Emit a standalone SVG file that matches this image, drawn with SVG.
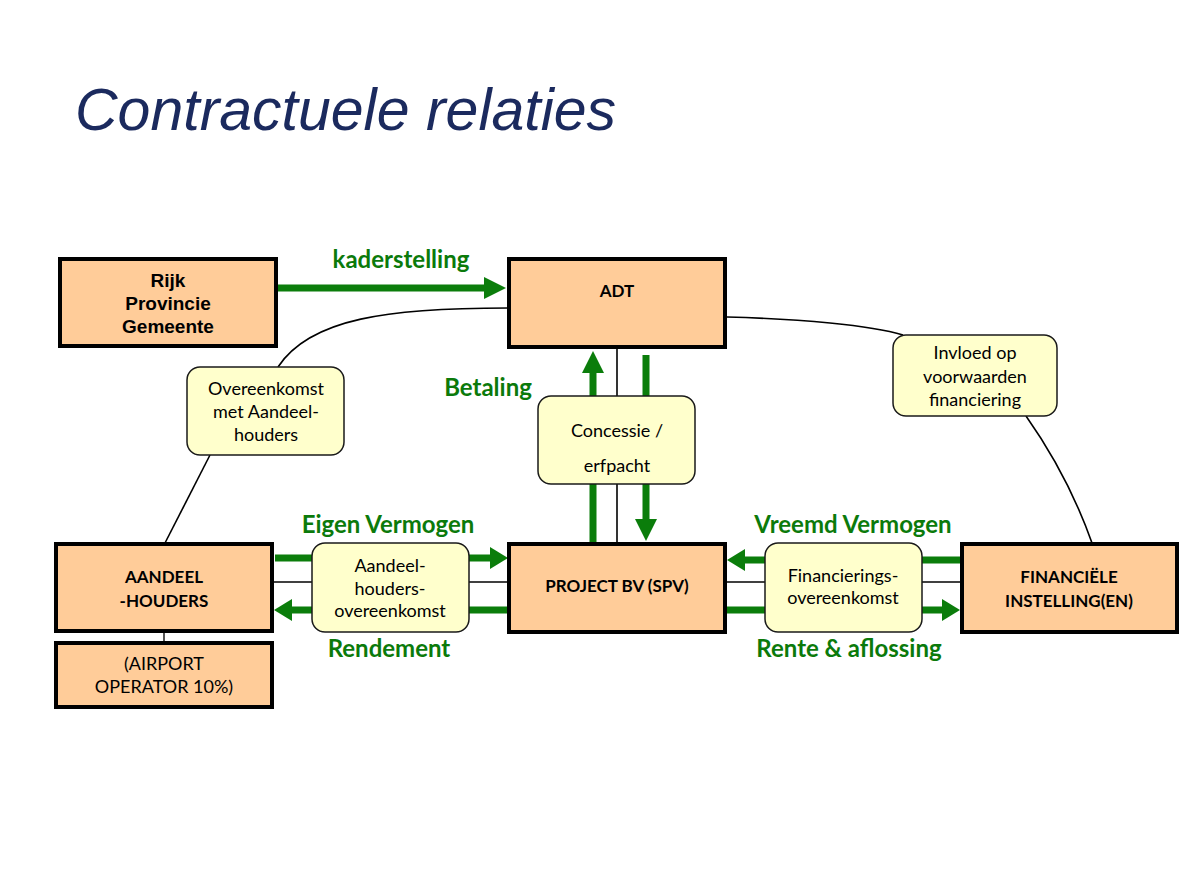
<svg xmlns="http://www.w3.org/2000/svg" width="1181" height="885" viewBox="0 0 1181 885">
<style>
.box{fill:#ffcc99;stroke:#000;stroke-width:4}
.note{fill:#ffffcc;stroke:#1a1a1a;stroke-width:1.5}
.bt{font-family:Lato,"Liberation Sans",sans-serif;font-weight:bold;font-size:17px;fill:#000;text-anchor:middle}
.nt{font-family:Lato,"Liberation Sans",sans-serif;font-size:18px;fill:#000;text-anchor:middle}
.ar{font-family:"Liberation Sans",Arial,sans-serif;font-weight:bold;font-size:19px;fill:#000;text-anchor:middle}
.gl{font-family:Lato,"Liberation Sans",sans-serif;font-weight:bold;font-size:24px;fill:#0b7a0b;text-anchor:middle}
.ga{stroke:#0b7d0b;stroke-width:7;fill:none}
.thin{stroke:#000;stroke-width:1.6;fill:none}
</style>
<defs>
<marker id="ah" markerUnits="userSpaceOnUse" markerWidth="22" markerHeight="22" refX="0" refY="11" orient="auto">
<path d="M0,0 L22,11 L0,22 Z" fill="#0b7d0b"/>
</marker>
<marker id="ahs" markerUnits="userSpaceOnUse" markerWidth="18" markerHeight="22" refX="0" refY="11" orient="auto">
<path d="M0,0 L18,11 L0,22 Z" fill="#0b7d0b"/>
</marker>
</defs>
<rect width="1181" height="885" fill="#fff"/>
<text x="75" y="130" font-family="'Liberation Sans',Arial,sans-serif" font-style="italic" font-size="59" fill="#1b2a5e">Contractuele relaties</text>

<g id="connectors">
<line class="ga" x1="277" y1="288" x2="484" y2="288" marker-end="url(#ah)"/>
<path class="thin" d="M508,308 C390,308 310,318 278,367"/>
<path class="thin" d="M210,455 L165,543"/>
<path class="thin" d="M727,317 C800,319 870,325 903,335"/>
<path class="thin" d="M1026,416 C1050,450 1075,495 1092,543"/>
<line x1="164" y1="632" x2="164" y2="643" stroke="#555" stroke-width="2"/>
<line class="thin" x1="617" y1="348" x2="617" y2="543"/>
<line class="ga" x1="593" y1="543" x2="593" y2="373" marker-end="url(#ah)"/>
<line class="ga" x1="646" y1="355" x2="646" y2="519" marker-end="url(#ah)"/>
<line class="thin" x1="273" y1="582" x2="508" y2="582"/>
<line class="ga" x1="275" y1="558" x2="490" y2="558" marker-end="url(#ahs)"/>
<line class="ga" x1="508" y1="610" x2="292" y2="610" marker-end="url(#ahs)"/>
<line class="thin" x1="726" y1="582" x2="961" y2="582"/>
<line class="ga" x1="961" y1="560" x2="745" y2="560" marker-end="url(#ahs)"/>
<line class="ga" x1="726" y1="610" x2="942" y2="610" marker-end="url(#ahs)"/>
</g>

<g id="labels">
<text class="gl" x="401" y="268">kaderstelling</text>
<text class="gl" x="488" y="396">Betaling</text>
<text class="gl" x="388" y="533">Eigen Vermogen</text>
<text class="gl" x="389" y="657">Rendement</text>
<text class="gl" x="853" y="533">Vreemd Vermogen</text>
<text class="gl" x="849" y="657">Rente &amp; aflossing</text>
</g>

<g id="rijk">
<rect class="box" x="60" y="259" width="216" height="87"/>
<text class="ar" x="168" y="287">Rijk</text>
<text class="ar" x="168" y="310">Provincie</text>
<text class="ar" x="168" y="333">Gemeente</text>
</g>
<g id="adt">
<rect class="box" x="509" y="259" width="216" height="88"/>
<text class="bt" x="617" y="297">ADT</text>
</g>
<g id="overeenkomst">
<rect class="note" x="187" y="367" width="157" height="88" rx="13"/>
<text class="nt" x="266" y="395">Overeenkomst</text>
<text class="nt" x="266" y="418">met Aandeel-</text>
<text class="nt" x="266" y="441">houders</text>
</g>
<g id="concessie">
<rect class="note" x="538" y="396" width="157" height="88" rx="13"/>
<text class="nt" x="617" y="437">Concessie /</text>
<text class="nt" x="617" y="472">erfpacht</text>
</g>
<g id="invloed">
<rect class="note" x="893" y="335" width="164" height="81" rx="13"/>
<text class="nt" x="975" y="359">Invloed op</text>
<text class="nt" x="975" y="383">voorwaarden</text>
<text class="nt" x="975" y="406">financiering</text>
</g>
<g id="aandeelhouders">
<rect class="box" x="56" y="544" width="216" height="87"/>
<text class="bt" x="164" y="583">AANDEEL</text>
<text class="bt" x="164" y="607">-HOUDERS</text>
</g>
<g id="airport">
<rect class="box" x="56" y="643" width="216" height="64"/>
<text class="nt" x="164" y="670">(AIRPORT</text>
<text class="nt" x="164" y="693">OPERATOR 10%)</text>
</g>
<g id="aho">
<rect class="note" x="312" y="543" width="157" height="89" rx="13"/>
<text class="nt" x="390" y="572">Aandeel-</text>
<text class="nt" x="390" y="595">houders-</text>
<text class="nt" x="390" y="617">overeenkomst</text>
</g>
<g id="project">
<rect class="box" x="509" y="544" width="216" height="88"/>
<text class="bt" x="617" y="592">PROJECT BV (SPV)</text>
</g>
<g id="fin-overeenkomst">
<rect class="note" x="765" y="543" width="157" height="89" rx="13"/>
<text class="nt" x="843" y="582">Financierings-</text>
<text class="nt" x="843" y="604">overeenkomst</text>
</g>
<g id="financiele">
<rect class="box" x="962" y="544" width="215" height="88"/>
<text class="bt" x="1069" y="583">FINANCIËLE</text>
<text class="bt" x="1069" y="607">INSTELLING(EN)</text>
</g>
</svg>
